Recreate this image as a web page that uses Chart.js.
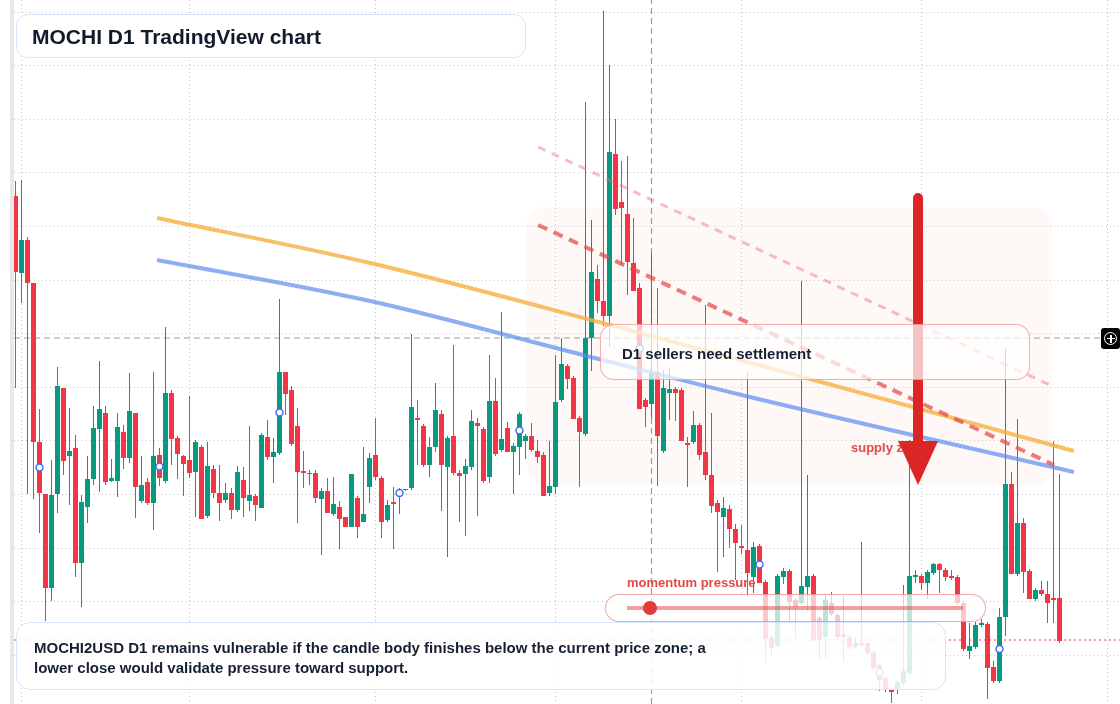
<!DOCTYPE html>
<html>
<head>
<meta charset="utf-8">
<script src="https://cdn.jsdelivr.net/npm/chart.js@4.4.1/dist/chart.umd.min.js"></script>
<style>
  html, body { margin: 0; padding: 0; background: #fff; }
  body { width: 1120px; height: 704px; position: relative; overflow: hidden;
         font-family: "Liberation Sans", Arial, sans-serif; }
  .abs { position: absolute; white-space: nowrap; }
  .strip { left: 10px; top: 0; width: 4px; height: 704px; background: #e8e8e8; }
  #wrap { position: absolute; left: 14px; top: 0; width: 1106px; height: 704px; }
  .card { position: absolute; box-sizing: border-box; }
  .t-title { font-weight: bold; font-size: 21px; line-height: 21px; color: #121b2c; }
  .t-body { font-weight: bold; font-size: 15px; line-height: 20px; color: #172033; }
  .t-red { font-weight: bold; font-size: 13px; line-height: 13px; color: #e24848; }
</style>
</head>
<body>
<div class="abs strip"></div>
<div class="abs t-red" style="left:851px; top:441px;">supply zone</div>
<div id="wrap"><canvas id="chart" width="1106" height="704"></canvas></div>

<div class="card" style="left:16px; top:14px; width:510px; height:44px; border:1.5px solid #d8e5fb; border-radius:12px; background:rgba(255,255,255,0.94);"></div>
<div class="abs t-title" style="left:32px; top:25.5px;">MOCHI D1 TradingView chart</div>

<div class="card" style="left:600px; top:324px; width:430px; height:56px; border:1.5px solid rgba(239,106,106,0.55); border-radius:14px; background:rgba(255,255,255,0.72);"></div>
<div class="abs t-body" style="left:622px; top:344px;">D1 sellers need settlement</div>

<div class="abs t-red" style="left:627px; top:575.7px;">momentum pressure</div>
<div class="card" style="left:605px; top:594px; width:381px; height:28px; border:1.5px solid rgba(239,106,106,0.6); border-radius:14px; background:rgba(255,255,255,0.72);"></div>
<div class="card" style="left:627px; top:606px; width:336px; height:4px; background:rgba(228,80,80,0.55);"></div>
<div class="card" style="left:643px; top:601px; width:14px; height:14px; border-radius:50%; background:#e23b3b;"></div>

<div class="card" style="left:16px; top:622px; width:930px; height:68px; border:1.5px solid #d8e5fb; border-radius:14px; background:rgba(255,255,255,0.85);"></div>
<div class="abs t-body" style="left:34px; top:638px;">MOCHI2USD D1 remains vulnerable if the candle body finishes below the current price zone; a<br>lower close would validate pressure toward support.</div>

<div class="card" style="left:1101px; top:328px; width:19px; height:21px; border-radius:3px; background:#000;">
  <div class="card" style="left:3px; top:4px; width:13px; height:13px; border:1.2px solid #fff; border-radius:50%;"></div>
  <div class="card" style="left:6px; top:10px; width:8px; height:1.4px; background:#fff;"></div>
  <div class="card" style="left:9.3px; top:6.7px; width:1.4px; height:8px; background:#fff;"></div>
</div>

<script>
// daily candles, one per day from Jan 31 (index 0)
const openP = [
  508,431,464,421,262,210,116,210,316,248, 256,141,197,225,275,291,223,223,272,246,
  291,203,222,201,249,223,311,266,248,244, 232,257,188,235,211,204,211,194,224,203,
  208,196,267,247,251,332,314,278,233,230, 231,205,213,190,197,187,177,206,182,217,
  249,226,184,202,208,214,216,286,278,239, 257,290,237,268,231,230,237,281,275,227,
  303,254,276,252,257,263,268,253,249,211, 217,304,338,326,286,270,366,425,403,388,
  550,502,490,441,416,304,300,332,253,311, 315,314,261,262,279,252,229,201,187,195,
  175,158,154,127,158,122,67,58,127,133, 104,101,117,128,86,67,101,89,70,67,
  57,61,61,52,39,26,14,14,21,31, 127,128,121,131,140,134,128,127,101,53,
  57,79,80,37,23,87,220,130,181,133, 105,114,110,106,106
];
const highP = [
  523,524,467,421,295,210,244,337,316,296, 269,209,248,298,343,298,245,291,279,331,
  291,248,226,332,256,377,314,268,249,308, 264,259,262,239,239,221,216,238,237,278,
  210,271,284,266,405,332,318,296,253,234, 234,216,226,227,203,187,230,208,257,251,
  286,228,204,217,216,215,370,304,280,267, 321,294,268,359,234,245,294,286,277,349,
  326,392,282,261,292,270,281,264,252,263, 349,366,340,328,288,602,484,439,693,639,
  585,543,548,486,421,306,451,416,334,337, 317,316,267,293,281,399,291,204,207,199,
  180,179,332,162,160,124,70,130,136,135, 106,423,229,130,88,110,112,91,108,69,
  67,162,63,54,41,28,16,24,119,264, 134,130,134,141,141,136,134,129,103,81,
  82,85,82,43,96,356,232,285,186,135, 116,123,123,263,230
];
const lowP = [
  316,401,210,205,171,83,103,191,229,199, 127,97,181,219,212,219,222,207,235,241,
  186,201,199,174,218,221,239,225,208,226, 187,185,186,206,183,201,185,192,187,193,
  183,196,244,221,249,289,258,181,216,219, 201,149,191,188,155,177,177,166,182,201,
  224,166,182,155,190,213,214,239,237,227, 252,193,147,229,182,168,234,188,221,221,
  248,252,252,210,229,245,252,241,208,208, 210,302,315,285,217,268,333,391,378,357,
  489,439,409,413,295,277,286,218,251,284, 283,263,217,260,244,224,191,132,147,156,
  124,150,107,111,121,41,49,56,120,83, 66,99,93,62,44,46,88,64,42,55,
  55,57,49,34,13,12,1,10,19,29, 121,114,105,129,111,123,124,99,53,45,
  55,77,5,21,21,68,130,128,111,105, 103,108,81,81,61
];
const closeP = [
  432,464,421,262,211,116,209,318,243,253, 141,202,225,276,295,222,226,277,246,293,
  217,219,201,248,226,311,265,250,240,231, 262,185,238,211,201,211,194,232,206,209,
  199,269,247,252,332,310,260,232,231,231, 206,213,191,200,185,177,230,177,190,246,
  227,182,199,200,214,215,297,284,239,257, 294,239,266,231,228,238,283,278,223,303,
  250,265,252,258,290,268,254,247,208,218, 302,340,325,285,272,366,432,403,388,552,
  495,496,442,413,295,297,331,268,316,315, 311,263,259,279,249,229,198,192,196,175,
  161,156,131,157,121,65,56,128,133,102, 97,118,128,64,64,104,90,67,67,57,
  61,59,51,36,24,14,12,22,33,128, 129,121,132,140,134,127,126,101,55,58,
  79,81,36,23,87,220,130,181,132,105, 114,110,101,104,63
];

const monthStarts = [1, 29, 60, 90, 121, 151, 182];
const gridPrices = [692, 638.4, 584.8, 531.2, 477.6, 424, 370.4, 316.8, 263.2, 209.6, 156, 102.4, 48.8];
const markerIdx = [4, 24, 44, 64, 84, 104, 124, 144, 164];

const crossPrice = 366, crossIndex = 106, lastPrice = 64;
const emaSlow = [[23.6, 486], [59.1, 441], [99.1, 379], [120.8, 344], [176.4, 253]];
const emaFast = [[23.6, 444], [59.1, 403], [94.6, 349], [122.4, 307], [176.4, 232]];
const trendUpper = [[87.1, 557], [172.75, 318]];
const trendLower = [[87.1, 479], [173.1, 239]];
const zone = { from: 85.25, to: 172.75, top: 497, bottom: 219 };
const arrow = { index: 150.42, from: 506, to: 263, head: 241 };

const xMin = -0.25, xMax = xMin + 1106 / 6;
const bull = '#089981', bear = '#f23645';
const idx = openP.map((_, i) => i);
const colors = idx.map(i => closeP[i] >= openP[i] ? bull : bear);
const pts = arr => arr.map(p => ({ x: p[0], y: p[1] }));

const head = document.createElement('canvas');
head.width = 40; head.height = 44;
const hc = head.getContext('2d');
hc.fillStyle = '#dc2626';
hc.beginPath(); hc.moveTo(0, 0); hc.lineTo(40, 0); hc.lineTo(20, 44); hc.closePath(); hc.fill();

const zonePlugin = {
  id: 'zone',
  beforeDatasetsDraw(chart) {
    const { ctx, scales: { x, y } } = chart;
    const x0 = x.getPixelForValue(zone.from), x1 = x.getPixelForValue(zone.to);
    const y0 = y.getPixelForValue(zone.top), y1 = y.getPixelForValue(zone.bottom);
    ctx.save();
    ctx.fillStyle = 'rgba(238,170,140,0.07)';
    ctx.beginPath();
    ctx.roundRect(x0, y0, x1 - x0, y1 - y0, 18);
    ctx.fill();
    ctx.restore();
  }
};

const line = (data, color, width, extra) => Object.assign({
  type: 'line', data, borderColor: color, borderWidth: width,
  pointRadius: 0, pointHoverRadius: 0, fill: false
}, extra);

new Chart(document.getElementById('chart'), {
  type: 'bar',
  data: {
    datasets: [
      line([{ x: xMin, y: crossPrice }, { x: 180.75, y: crossPrice }], '#9e9e9e', 1.2, { borderDash: [6, 4], order: 20 }),
      line([{ x: crossIndex, y: 0 }, { x: crossIndex, y: 704 }], '#9e9e9e', 1.2, { borderDash: [6, 4], order: 19 }),
      {
        data: idx.map(i => ({ x: i, y: [lowP[i], highP[i]] })),
        backgroundColor: colors, barThickness: 1, maxBarThickness: 1,
        grouped: false, inflateAmount: 0, borderWidth: 0, order: 15
      },
      {
        data: idx.map(i => ({ x: i, y: [openP[i], closeP[i]] })),
        backgroundColor: colors, barThickness: 5, maxBarThickness: 5,
        grouped: false, inflateAmount: 0, borderWidth: 0, order: 14
      },
      line([{ x: xMin, y: lastPrice }, { x: xMax, y: lastPrice }], '#f23645', 1, { borderDash: [2, 3], order: 12 }),
      line(pts(emaSlow), 'rgba(245,176,65,0.8)', 4, { cubicInterpolationMode: 'monotone', order: 10 }),
      line(pts(emaFast), 'rgba(91,141,239,0.7)', 4, { cubicInterpolationMode: 'monotone', order: 9 }),
      line(pts(trendUpper), 'rgba(236,110,110,0.45)', 3, { borderDash: [8, 7], order: 8 }),
      line(pts(trendLower), 'rgba(226,70,70,0.7)', 4, { borderDash: [10, 7], order: 7 }),
      {
        type: 'line', showLine: false, order: 6,
        data: markerIdx.map(i => ({ x: i, y: (openP[i] + closeP[i]) / 2 })),
        pointRadius: 3.5, pointHoverRadius: 3.5, pointBorderWidth: 1.5,
        pointBorderColor: '#3d6ff2', pointBackgroundColor: '#fff'
      },
      line([{ x: arrow.index, y: arrow.from }, { x: arrow.index, y: arrow.to }], '#dc2626', 10, { borderCapStyle: 'round', order: 5 }),
      {
        type: 'line', showLine: false, order: 4,
        data: [{ x: arrow.index, y: arrow.head }],
        pointStyle: head, pointRadius: 20, pointHoverRadius: 20
      }
    ]
  },
  options: {
    responsive: false,
    animation: false,
    devicePixelRatio: 1,
    events: [],
    layout: { padding: 0, autoPadding: false },
    plugins: { legend: { display: false }, tooltip: { enabled: false } },
    scales: {
      x: {
        type: 'linear', min: xMin, max: xMax, offset: false,
        grid: { color: 'rgba(0,0,0,0.22)', lineWidth: 1, drawTicks: false, offset: false },
        border: { display: false, dash: [1, 3] },
        ticks: { display: false },
        afterBuildTicks: s => { s.ticks = monthStarts.map(v => ({ value: v })); },
        afterFit: s => { s.height = 0; }
      },
      y: {
        type: 'linear', min: 0, max: 704,
        grid: { color: 'rgba(0,0,0,0.22)', lineWidth: 1, drawTicks: false },
        border: { display: false, dash: [1, 3] },
        ticks: { display: false },
        afterBuildTicks: s => { s.ticks = gridPrices.map(v => ({ value: v })); },
        afterFit: s => { s.width = 0; }
      }
    }
  },
  plugins: [zonePlugin]
});
</script>
</body>
</html>
